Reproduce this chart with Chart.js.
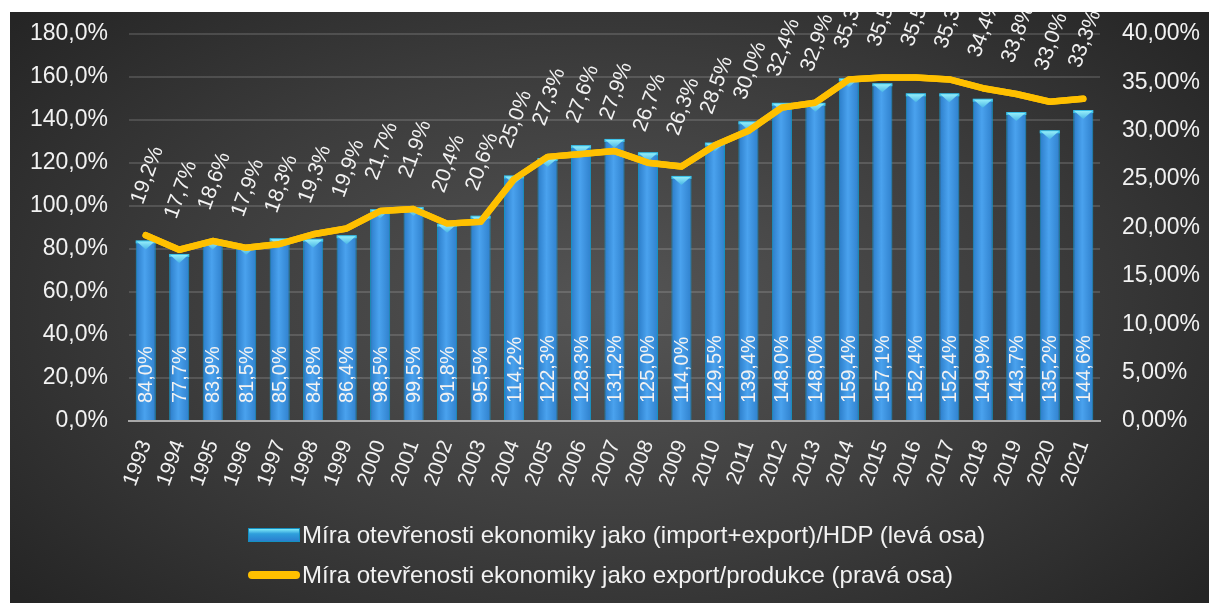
<!DOCTYPE html>
<html>
<head>
<meta charset="utf-8">
<script src="https://cdn.jsdelivr.net/npm/chart.js@4"></script>
<style>
  html, body { margin: 0; padding: 0; background: #fff; }
  #wrap {
    position: absolute; left: 10px; top: 12px; width: 1199px; height: 591px;
    background: radial-gradient(ellipse 65% 75% at 50% 50%, #555555 0%, #3c3c3c 55%, #252525 100%);
    font-family: "Liberation Sans", Arial, sans-serif;
  }
  #chart { position: absolute; left: 0; top: 0; }
  .leg { position: absolute; left: 238px; color: #f2f2f2; font-size: 24px; white-space: nowrap; display: flex; align-items: center; }
  .leg .sw { width: 52px; margin-right: 2px; }
  .leg .box { height: 14px; background: linear-gradient(#7fe9f8, #2f9fdc 40%, #2a7fcf); border: 1px solid #1590c0; box-sizing: border-box; }
  .leg .ln { height: 8px; border-radius: 4px; background: #ffc000; }
</style>
</head>
<body>
<div id="wrap">
  <canvas id="chart" width="1199" height="591"></canvas>
  <div class="leg" style="top:509px"><div class="sw box"></div>Míra otevřenosti ekonomiky jako (import+export)/HDP (levá osa)</div>
  <div class="leg" style="top:549px"><div class="sw ln"></div>Míra otevřenosti ekonomiky jako export/produkce (pravá osa)</div>
</div>
<script>
var years = ["1993","1994","1995","1996","1997","1998","1999","2000","2001","2002","2003","2004","2005","2006","2007",
             "2008","2009","2010","2011","2012","2013","2014","2015","2016","2017","2018","2019","2020","2021"];
var openTotal = [84.0, 77.7, 83.9, 81.5, 85.0, 84.8, 86.4, 98.5, 99.5, 91.8, 95.5, 114.2, 122.3, 128.3, 131.2,
                 125.0, 114.0, 129.5, 139.4, 148.0, 148.0, 159.4, 157.1, 152.4, 152.4, 149.9, 143.7, 135.2, 144.6];
var openExport = [19.2, 17.7, 18.6, 17.9, 18.3, 19.3, 19.9, 21.7, 21.9, 20.4, 20.6, 25.0, 27.3, 27.6, 27.9,
                  26.7, 26.3, 28.5, 30.0, 32.4, 32.9, 35.3, 35.5, 35.5, 35.3, 34.4, 33.8, 33.0, 33.3];
var seriesNames = ["Míra otevřenosti ekonomiky jako (import+export)/HDP (levá osa)",
                   "Míra otevřenosti ekonomiky jako export/produkce (pravá osa)"];

var FONT = '"Liberation Sans", Arial, sans-serif';
var txtColor = "#f2f2f2";

function fmt(v, d) {
    return v.toFixed(d).replace(".", ",") + "%";
}

function barFill(context) {
    var chart = context.chart;
    if (!chart.chartArea || !chart.scales.x) return "#3f95e3";
    var x = chart.scales.x.getPixelForValue(context.dataIndex);
    var g = chart.ctx.createLinearGradient(x - 10, 0, x + 10, 0);
    g.addColorStop(0, "#2b7cc8");
    g.addColorStop(0.45, "#4aa2ee");
    g.addColorStop(1, "#2f80cc");
    return g;
}

// y axes: no extra room above/below for half labels
function fixY(width) {
    return function(scale) {
        scale.width = width;
        scale.paddingTop = 0;
        scale.paddingBottom = 0;
    };
}

// bevel tops of the bars and the data labels
var labelsPlugin = {
    id: "labelsPlugin",
    afterDatasetsDraw: function(chart) {
        var ctx = chart.ctx;
        var barMeta = chart.getDatasetMeta(1);
        var lineMeta = chart.getDatasetMeta(0);
        var bottom = chart.chartArea.bottom;

        ctx.save();
        barMeta.data.forEach(function(bar) {
            var half = bar.width / 2;
            ctx.fillStyle = "#3ec3ea";
            ctx.fillRect(bar.x - half, bar.y, bar.width, 3);
            var g = ctx.createLinearGradient(0, bar.y, 0, bar.y + 9);
            g.addColorStop(0, "#9ef4fc");
            g.addColorStop(1, "#49b6e6");
            ctx.fillStyle = g;
            ctx.beginPath();
            ctx.moveTo(bar.x - half + 1, bar.y + 1);
            ctx.lineTo(bar.x + half - 1, bar.y + 1);
            ctx.lineTo(bar.x, bar.y + 9);
            ctx.closePath();
            ctx.fill();
        });
        ctx.restore();

        // redraw line over the bevels
        lineMeta.dataset.draw(ctx, chart.chartArea);

        ctx.save();
        ctx.fillStyle = txtColor;
        ctx.textAlign = "left";
        ctx.font = "20px " + FONT;
        ctx.textBaseline = "middle";
        barMeta.data.forEach(function(bar, i) {
            ctx.save();
            ctx.translate(bar.x + 1, bottom - 18);
            ctx.rotate(-Math.PI / 2);
            ctx.fillText(fmt(openTotal[i], 1), 0, 0);
            ctx.restore();
        });
        ctx.font = "21px " + FONT;
        ctx.textBaseline = "alphabetic";
        lineMeta.data.forEach(function(pt, i) {
            ctx.save();
            ctx.translate(pt.x - 3, pt.y - 30);
            ctx.rotate(-70 * Math.PI / 180);
            ctx.fillText(fmt(openExport[i], 1), 0, 0);
            ctx.restore();
        });
        ctx.restore();
    }
};

var ctx1 = document.getElementById("chart").getContext("2d");
var openChart = new Chart(ctx1, {
    type: "bar",
    data: {
        labels: years,
        datasets: [{
                type: "line",
                label: seriesNames[1],
                data: openExport,
                yAxisID: "y2",
                borderColor: "#ffc000",
                borderWidth: 6.5,
                borderJoinStyle: "round",
                borderCapStyle: "round",
                pointRadius: 0,
                tension: 0,
                order: 0
            },
            {
                type: "bar",
                label: seriesNames[0],
                data: openTotal,
                yAxisID: "y",
                backgroundColor: barFill,
                borderColor: "#1694c4",
                borderWidth: 1,
                categoryPercentage: 1,
                barPercentage: 0.6,
                order: 1
            }
        ]
    },
    options: {
        responsive: false,
        animation: false,
        layout: { padding: { top: 22, left: 0, right: 0, bottom: 0 } },
        plugins: {
            legend: { display: false },
            tooltip: { enabled: false }
        },
        scales: {
            x: {
                grid: { display: false, drawTicks: false },
                border: { display: true, color: "#a8a8a8", width: 2 },
                ticks: {
                    color: txtColor,
                    font: { family: FONT, size: 21 },
                    minRotation: 70,
                    maxRotation: 70,
                    padding: 16,
                    autoSkip: false
                },
                afterFit: function(scale) {
                    scale.height = 182;
                    scale.paddingLeft = 0;
                    scale.paddingRight = 0;
                }
            },
            y: {
                position: "left",
                min: 0,
                max: 180,
                grid: { color: "rgba(255,255,255,0.14)", lineWidth: 2, drawTicks: false },
                border: { display: false },
                ticks: {
                    stepSize: 20,
                    color: txtColor,
                    font: { family: FONT, size: 23 },
                    padding: 21,
                    callback: function(v) { return fmt(v, 1); }
                },
                afterFit: fixY(119)
            },
            y2: {
                position: "right",
                min: 0,
                max: 40,
                grid: { display: false, drawTicks: false },
                border: { display: false },
                ticks: {
                    stepSize: 5,
                    color: txtColor,
                    font: { family: FONT, size: 23 },
                    padding: 22,
                    callback: function(v) { return fmt(v, 2); }
                },
                afterFit: fixY(109)
            }
        }
    },
    plugins: [labelsPlugin]
});
</script>
</body>
</html>
